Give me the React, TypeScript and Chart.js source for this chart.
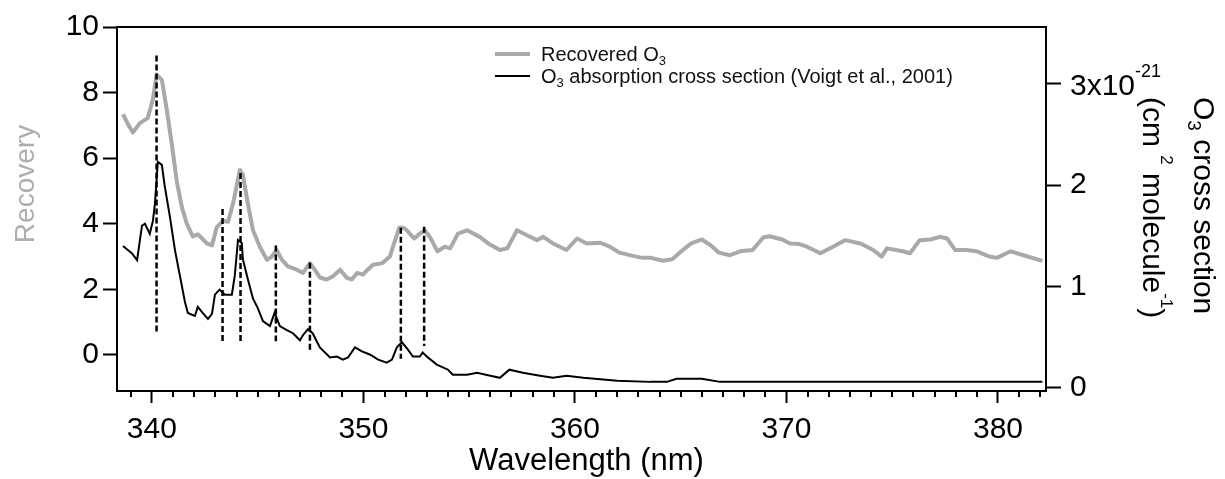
import React, { useEffect, useRef } from 'react';
import { Chart, registerables } from 'chart.js';

Chart.register(...registerables);

// ---------------- data ----------------
const recoveredNm = [
  338.63, 338.9, 339.1, 339.43, 339.8, 340.05, 340.22, 340.47, 340.7, 340.95,
  341.18, 341.42, 341.65, 341.94, 342.17, 342.6, 342.84, 343.07, 343.36, 343.6,
  343.83, 344.16, 344.3, 344.54, 344.78, 345.1, 345.44, 345.67, 345.9, 346.15,
  346.43, 346.85, 347.14, 347.47, 347.7, 347.94, 348.27, 348.56, 348.9, 349.2,
  349.45, 349.7, 349.98, 350.2, 350.45, 350.9, 351.25, 351.5, 351.7, 351.9,
  352.05, 352.4, 352.67, 352.9, 353.14, 353.5, 353.85, 354.1, 354.47, 354.9,
  355.5, 355.9, 356.45, 356.8, 357.26, 357.73, 358.2, 358.5, 358.96, 359.6,
  360.1, 360.56, 361.2, 361.65, 362.1, 362.74, 363.2, 363.6, 364.16, 364.6,
  365.1, 365.5, 366.0, 366.4, 366.8, 367.33, 367.8, 368.4, 368.9, 369.2,
  369.8, 370.17, 370.6, 370.97, 371.6, 372.2, 372.77, 373.5, 374.1, 374.5,
  374.75, 375.5, 375.84, 376.3, 376.8, 377.26, 377.6, 377.97, 378.5, 379.0,
  379.6, 379.95, 380.6, 381.2, 382.1,
];
const recoveredValue = [
  7.34, 7.0, 6.78, 7.07, 7.22, 7.8, 8.55, 8.39, 7.49, 6.39,
  5.28, 4.5, 4.0, 3.61, 3.68, 3.4, 3.34, 3.9, 4.09, 4.06,
  4.6, 5.64, 5.5, 4.6, 3.8, 3.3, 2.9, 3.0, 3.2, 2.9,
  2.7, 2.6, 2.5, 2.8, 2.6, 2.36, 2.3, 2.4, 2.6, 2.36,
  2.3, 2.5, 2.45, 2.6, 2.75, 2.8, 3.0, 3.5, 3.88, 3.88,
  3.8, 3.55, 3.7, 3.8, 3.6, 3.16, 3.3, 3.25, 3.7, 3.8,
  3.6, 3.4, 3.2, 3.25, 3.8, 3.65, 3.5, 3.6, 3.4, 3.2,
  3.55, 3.4, 3.42, 3.3, 3.12, 3.02, 2.96, 2.96, 2.87, 2.92,
  3.2, 3.4, 3.52, 3.35, 3.12, 3.04, 3.16, 3.2, 3.58, 3.62,
  3.52, 3.4, 3.38, 3.3, 3.1, 3.3, 3.5, 3.4, 3.2, 3.0,
  3.25, 3.16, 3.1, 3.5, 3.52, 3.6, 3.55, 3.2, 3.2, 3.16,
  3.0, 2.96, 3.16, 3.04, 2.87,
];

// O3 absorption cross section, in units of 1e-21 cm2 molecule-1
const crossNm = [
  338.63, 339.05, 339.3, 339.53, 339.67, 339.9, 340.05, 340.14, 340.28, 340.47,
  340.6, 340.85, 341.09, 341.32, 341.56, 341.7, 342.03, 342.17, 342.4, 342.65,
  342.84, 342.98, 343.2, 343.45, 343.78, 343.92, 344.07, 344.25, 344.3, 344.54,
  344.78, 345.0, 345.25, 345.58, 345.8, 346.05, 346.38, 346.67, 347.0, 347.14,
  347.38, 347.6, 347.94, 348.42, 348.75, 349.03, 349.27, 349.6, 349.93, 350.3,
  350.7, 351.1, 351.35, 351.58, 351.82, 352.06, 352.34, 352.67, 352.8, 353.05,
  353.47, 354.0, 354.23, 354.9, 355.37, 356.0, 356.45, 356.9, 357.54, 358.35,
  358.96, 359.6, 360.4, 362.0, 363.55, 364.35, 364.8, 366.0, 366.86, 370.6,
  375.0, 382.1,
];
const crossValue = [
  1.40, 1.33, 1.26, 1.6, 1.62, 1.52, 1.65, 1.81, 2.23, 2.2,
  2.0, 1.69, 1.36, 1.11, 0.85, 0.74, 0.71, 0.8, 0.74, 0.68,
  0.73, 0.92, 0.97, 0.92, 0.92, 1.11, 1.46, 1.43, 1.27, 1.07,
  0.88, 0.79, 0.66, 0.61, 0.74, 0.61, 0.57, 0.54, 0.47, 0.52,
  0.58, 0.54, 0.4, 0.3, 0.31, 0.28, 0.3, 0.4, 0.36, 0.33,
  0.28, 0.25, 0.28, 0.4, 0.45, 0.39, 0.31, 0.31, 0.35, 0.3,
  0.23, 0.18, 0.13, 0.13, 0.15, 0.12, 0.1, 0.18, 0.15, 0.12,
  0.1, 0.12, 0.1, 0.07, 0.06, 0.06, 0.09, 0.09, 0.06, 0.06,
  0.06, 0.06,
];

// dashed markers of the absorption peaks (in "Recovery" axis units)
const peakNm = [340.22, 343.34, 344.19, 345.86, 347.47, 351.77, 352.87];
const peakTop = [9.13, 4.45, 5.55, 3.34, 2.81, 3.88, 3.91];
const peakBottom = [0.63, 0.36, 0.42, 0.42, 0.12, -0.12, 0.27];

const xMajorTicks = [340, 350, 360, 370, 380];
const leftTicks = [0, 2, 4, 6, 8, 10];
const rightTicks = [0, 1, 2, 3];
const rightTickLabels = ['0', '1', '2', '3x10'];
const rightTickExponent = '-21';

const legendRecovered = 'Recovered O';
const legendCross = ' absorption cross section (Voigt et al., 2001)';
const xTitle = 'Wavelength (nm)';
const leftTitle = 'Recovery';

// ---------------- styling ----------------
const FONT = '"Liberation Sans", Arial, Helvetica, sans-serif';
const GRAY = '#a9a9a9';
const TITLE_GRAY = '#aeaeae';

type Piece = { t: string; s: number; dy?: number };

function drawPieces(ctx: CanvasRenderingContext2D, pieces: Piece[], x: number, y: number) {
  let cx = x;
  for (const p of pieces) {
    ctx.font = `${p.s}px ${FONT}`;
    ctx.fillText(p.t, cx, y + (p.dy || 0));
    cx += ctx.measureText(p.t).width;
  }
  return cx;
}

const figurePlugin = {
  id: 'figureDecor',
  afterDraw(chart: any) {
    const ctx: CanvasRenderingContext2D = chart.ctx;
    const a = chart.chartArea;
    const xs = chart.scales.x;
    const yr = chart.scales.y1;
    ctx.save();

    // frame
    ctx.strokeStyle = '#000';
    ctx.lineWidth = 2;
    ctx.strokeRect(a.left, a.top, a.right - a.left, a.bottom - a.top);

    // minor ticks on the wavelength axis (every 1 nm)
    ctx.beginPath();
    for (let v = Math.ceil(xs.min); v <= xs.max; v++) {
      if (xMajorTicks.includes(v)) continue;
      const px = Math.round(xs.getPixelForValue(v));
      ctx.moveTo(px, a.bottom);
      ctx.lineTo(px, a.bottom + 6);
    }
    ctx.stroke();

    // legend
    const lx = a.left + 378;
    ctx.lineCap = 'butt';
    ctx.strokeStyle = GRAY;
    ctx.lineWidth = 4;
    ctx.beginPath();
    ctx.moveTo(lx, a.top + 27);
    ctx.lineTo(lx + 35, a.top + 27);
    ctx.stroke();
    ctx.strokeStyle = '#000';
    ctx.lineWidth = 2;
    ctx.beginPath();
    ctx.moveTo(lx, a.top + 49);
    ctx.lineTo(lx + 35, a.top + 49);
    ctx.stroke();
    ctx.fillStyle = '#111';
    ctx.textAlign = 'left';
    ctx.textBaseline = 'alphabetic';
    drawPieces(ctx, [{ t: legendRecovered, s: 20 }, { t: '3', s: 13, dy: 4 }], lx + 46, a.top + 34);
    drawPieces(ctx, [{ t: 'O', s: 20 }, { t: '3', s: 13, dy: 4 }, { t: legendCross, s: 20 }], lx + 46, a.top + 56);

    // top right tick label with exponent
    ctx.fillStyle = '#000';
    const rx = yr.left + 15 + 9;
    const ry = yr.getPixelForValue(rightTicks[3]);
    drawPieces(ctx, [{ t: rightTickLabels[3], s: 30 }, { t: rightTickExponent, s: 18, dy: -18 }], rx, ry + 11);

    // x title
    ctx.font = `31px ${FONT}`;
    ctx.textAlign = 'center';
    ctx.fillText(xTitle, (a.left + a.right) / 2 + 5, a.bottom + 79);

    // left title
    ctx.save();
    ctx.translate(34, (a.top + a.bottom) / 2 - 25);
    ctx.rotate(-Math.PI / 2);
    ctx.fillStyle = TITLE_GRAY;
    ctx.font = `28px ${FONT}`;
    ctx.textAlign = 'center';
    ctx.fillText(leftTitle, 0, 0);
    ctx.restore();

    // right title (two rotated lines)
    ctx.textAlign = 'left';
    ctx.fillStyle = '#000';
    ctx.save();
    ctx.translate(a.right + 148, 97);
    ctx.rotate(Math.PI / 2);
    drawPieces(ctx, [{ t: 'O', s: 30 }, { t: '3', s: 19, dy: 6 }, { t: ' cross section', s: 30 }], 0, 0);
    ctx.restore();
    ctx.save();
    ctx.translate(a.right + 97, 97);
    ctx.rotate(Math.PI / 2);
    drawPieces(
      ctx,
      [
        { t: '(cm ', s: 30 },
        { t: '2', s: 17, dy: -18 },
        { t: ' molecule', s: 30 },
        { t: '-1', s: 17, dy: -18 },
        { t: ')', s: 30 },
      ],
      0,
      0,
    );
    ctx.restore();

    ctx.restore();
  },
};

export default function App() {
  const ref = useRef<HTMLCanvasElement>(null);

  useEffect(() => {
    const canvas = ref.current;
    if (!canvas) return;
    Chart.defaults.font.family = FONT;
    Chart.defaults.color = '#000';

    const peakSets = peakNm.map((nm, i) => ({
      type: 'line' as const,
      data: [
        { x: nm, y: peakTop[i] },
        { x: nm, y: peakBottom[i] },
      ],
      yAxisID: 'y',
      borderColor: '#000',
      borderWidth: 2.5,
      borderDash: [6, 3],
      pointRadius: 0,
      fill: false,
    }));

    const chart = new Chart(canvas, {
      type: 'line',
      data: {
        datasets: [
          ...peakSets,
          {
            label: 'O3 absorption cross section (Voigt et al., 2001)',
            data: crossNm.map((x, i) => ({ x, y: crossValue[i] })),
            yAxisID: 'y1',
            borderColor: '#000',
            borderWidth: 2,
            pointRadius: 0,
            tension: 0,
            fill: false,
          },
          {
            label: 'Recovered O3',
            data: recoveredNm.map((x, i) => ({ x, y: recoveredValue[i] })),
            yAxisID: 'y',
            borderColor: GRAY,
            borderWidth: 4,
            borderJoinStyle: 'round',
            pointRadius: 0,
            tension: 0,
            fill: false,
          },
        ] as any,
      },
      options: {
        responsive: false,
        animation: false,
        devicePixelRatio: 1,
        layout: { padding: { top: 18, left: 0, right: 0, bottom: 0 } },
        plugins: { legend: { display: false }, tooltip: { enabled: false }, title: { display: false } },
        scales: {
          x: {
            type: 'linear',
            position: 'bottom',
            min: 338.35,
            max: 382.27,
            afterBuildTicks: (s: any) => {
              s.ticks = xMajorTicks.map((v) => ({ value: v }));
            },
            afterFit: (s: any) => {
              s.height = 88;
            },
            grid: { drawOnChartArea: false, drawTicks: true, tickLength: 12, tickWidth: 2, tickColor: '#000' },
            border: { display: true, color: '#000', width: 2 },
            ticks: {
              font: { size: 30 },
              color: '#000',
              padding: 9,
              maxRotation: 0,
              autoSkip: false,
              callback: (v: any) => String(v),
            },
          },
          y: {
            type: 'linear',
            position: 'left',
            min: -1.1,
            max: 10,
            afterBuildTicks: (s: any) => {
              s.ticks = leftTicks.map((v) => ({ value: v }));
            },
            afterFit: (s: any) => {
              s.width = 117;
            },
            grid: { drawOnChartArea: false, drawTicks: true, tickLength: 14, tickWidth: 2, tickColor: '#000' },
            border: { display: true, color: '#000', width: 2 },
            ticks: { font: { size: 30 }, color: '#000', padding: 4, callback: (v: any) => String(v) },
          },
          y1: {
            type: 'linear',
            position: 'right',
            min: -0.03,
            max: 3.56,
            afterBuildTicks: (s: any) => {
              s.ticks = rightTicks.map((v) => ({ value: v }));
            },
            afterFit: (s: any) => {
              s.width = 179;
            },
            grid: { drawOnChartArea: false, drawTicks: true, tickLength: 15, tickWidth: 2, tickColor: '#000' },
            border: { display: true, color: '#000', width: 2 },
            ticks: {
              font: { size: 30 },
              color: '#000',
              padding: 9,
              callback: (_v: any, i: number) => (i === rightTicks.length - 1 ? '' : rightTickLabels[i]),
            },
          },
        },
      } as any,
      plugins: [figurePlugin],
    });

    return () => chart.destroy();
  }, []);

  return (
    <div style={{ position: 'fixed', left: 0, top: 0, width: 1225, height: 479, background: '#fff' }}>
      <canvas ref={ref} width={1225} height={479} style={{ width: '1225px', height: '479px', display: 'block' }} />
    </div>
  );
}
